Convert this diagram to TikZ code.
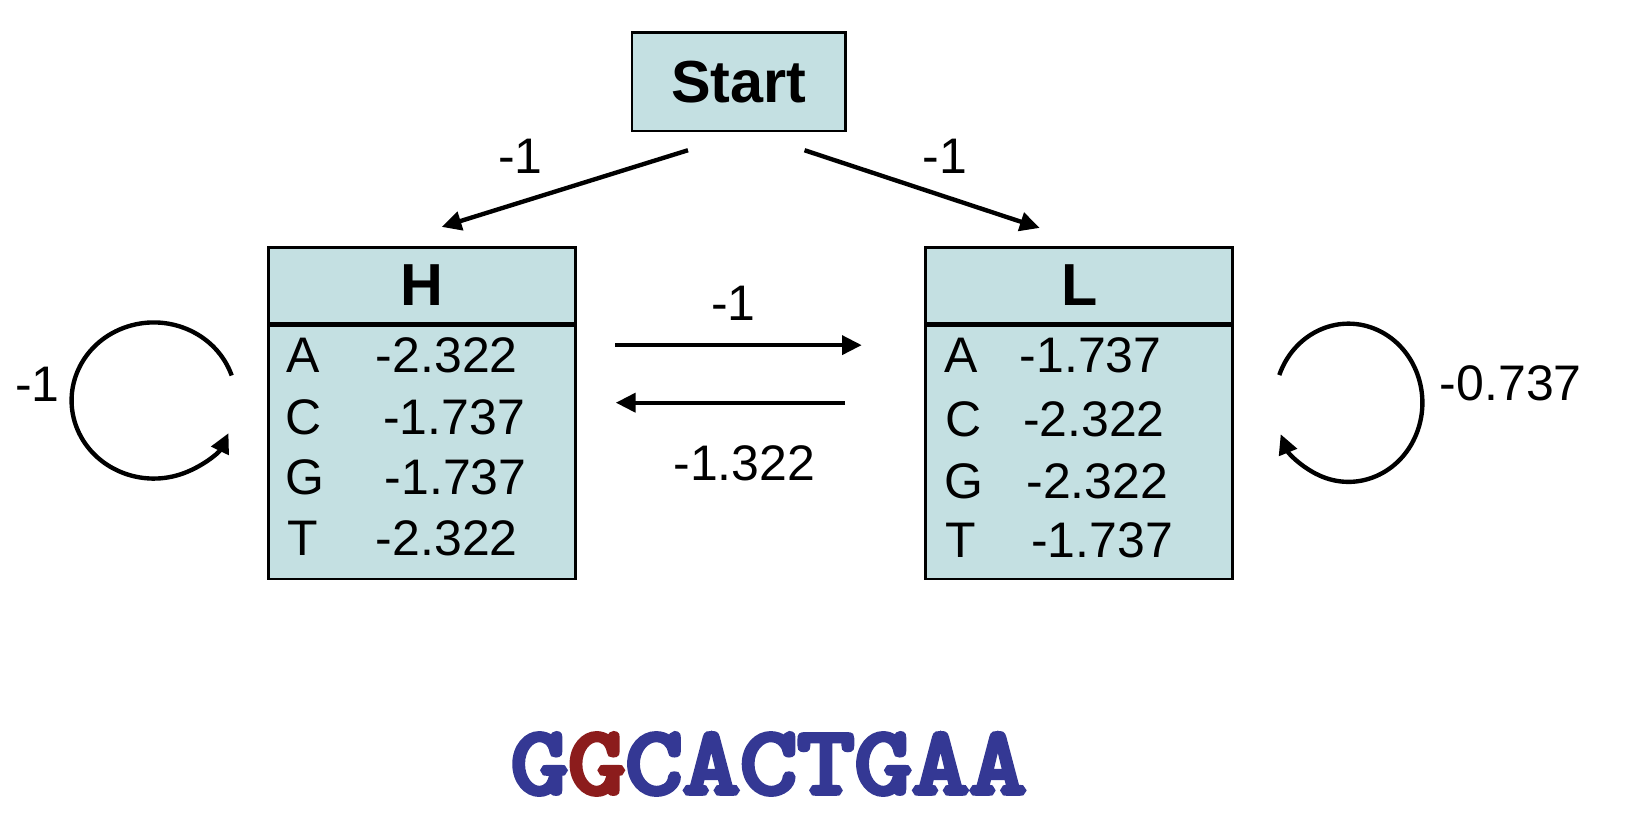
\documentclass[tikz,border=0pt]{standalone}
\usepackage{fontspec}
\setmainfont{Liberation Sans}
\usetikzlibrary{arrows.meta}
\definecolor{boxfill}{RGB}{196,224,226}
\definecolor{seqblue}{RGB}{52,56,148}
\definecolor{seqred}{RGB}{140,28,28}
\font\seqf="[lmmono10-regular]:extend=1.14;embolden=5.5" at 92pt
\begin{document}
\begin{tikzpicture}[x=1pt,y=-1pt,
  statebox/.style={draw=black, line width=2.6pt, fill=boxfill, inner sep=0pt},
  hdrfont/.style={font=\fontsize{57}{66}\selectfont\bfseries},
  lbl/.style={inner sep=0pt, font=\fontsize{48}{56}\selectfont},
  conn/.style={line width=4.2pt, -{Triangle[length=19pt,width=18pt]}},
]
\useasboundingbox (0,0) rectangle (1568,795.6);
% boxes
\node[statebox, hdrfont, minimum width=205pt, minimum height=94.5pt] (start) at (709.7,78.6) {Start};
\node[statebox, hdrfont, minimum width=295pt, minimum height=72.5pt, anchor=north west] (Hhead) at (256.5,236.5) {H};
\node[statebox, minimum width=295pt, minimum height=243.5pt, anchor=north] (Hbody) at (Hhead.south) {};
\node[statebox, hdrfont, minimum width=295pt, minimum height=72.5pt, anchor=north west] (Lhead) at (888,236.5) {L};
\node[statebox, minimum width=295pt, minimum height=243.5pt, anchor=north] (Lbody) at (Lhead.south) {};
% H emissions
\node[lbl, anchor=west] (hA) at (275,341) {A};
\node[lbl, anchor=west] (hC) at (274.5,401) {C};
\node[lbl, anchor=west] (hG) at (274.5,459) {G};
\node[lbl, anchor=west] (hT) at (276,517) {T};
\node[lbl, anchor=west] (hAv) at (361,341) {-2.322};
\node[lbl, anchor=west] (hCv) at (368,401) {-1.737};
\node[lbl, anchor=west] (hGv) at (369.5,459) {-1.737};
\node[lbl, anchor=west] (hTv) at (361,517) {-2.322};
% L emissions
\node[lbl, anchor=west] (lA) at (907,341) {A};
\node[lbl, anchor=west] (lC) at (908.5,403) {C};
\node[lbl, anchor=west] (lG) at (907.5,462) {G};
\node[lbl, anchor=west] (lT) at (908.5,519) {T};
\node[lbl, anchor=west] (lAv) at (979.5,341) {-1.737};
\node[lbl, anchor=west] (lCv) at (982.7,403) {-2.322};
\node[lbl, anchor=west] (lGv) at (986,462) {-2.322};
\node[lbl, anchor=west] (lTv) at (990.7,519) {-1.737};
% transitions
\draw[conn] ([xshift=-48.7pt,yshift=-17.2pt]start.south) -- ([xshift=19pt,yshift=18.5pt]Hhead.north);
\draw[conn] ([xshift=63.3pt,yshift=-17.2pt]start.south) -- ([xshift=-37.9pt,yshift=17.5pt]Lhead.north);
\draw[conn] ([xshift=37.2pt,yshift=-20pt]Hhead.south east) -- ([xshift=-60pt,yshift=-20pt]Lhead.south west);
\draw[conn] ([xshift=-76pt,yshift=-75.3pt]Lhead.south west) -- ([xshift=37.5pt,yshift=-75.3pt]Hhead.south east);
\draw[conn] ([xshift=-33.9pt,yshift=73.9pt]Hbody.west) arc[start angle=18.7, end angle=335.3, x radius=79pt, y radius=75pt];
\draw[conn] ([xshift=43.5pt,yshift=74.3pt]Lbody.east) arc[start angle=159.5, end angle=-156.6, x radius=71pt, y radius=76pt];
% transition labels
\node[lbl] (tSH) at (500,150.5) {-1};
\node[lbl] (tSL) at (908,150.5) {-1};
\node[lbl] (tHL) at (704.6,291.4) {-1};
\node[lbl] (tLH) at (715,445) {-1.322};
\node[lbl] (tHH) at (36,369) {-1};
\node[lbl] (tLL) at (1451.5,368) {-0.737};
% sequence
\node[inner sep=0pt] (seq) at (738.5,734) {\seqf\color{seqblue}G\textcolor{seqred}{G}CACTGAA};
\end{tikzpicture}
\end{document}
